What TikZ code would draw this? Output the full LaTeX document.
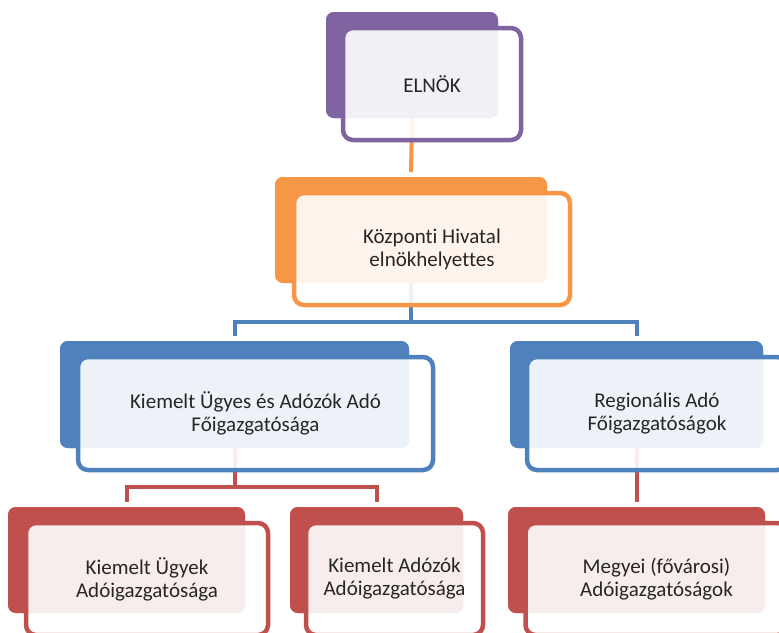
\documentclass[tikz,border=0pt]{standalone}
\usepackage{fontspec}
\setmainfont{Carlito}[Ligatures=NoCommon]
\usetikzlibrary{calc}
\definecolor{cpurple}{HTML}{8064A2}
\definecolor{corange}{HTML}{F79646}
\definecolor{cblue}{HTML}{4F81BD}
\definecolor{cred}{HTML}{C0504D}
\definecolor{ctext}{HTML}{262626}
\tikzset{
  backbox/.style={rectangle, rounded corners=8pt, inner sep=0pt, outer sep=0pt, draw=none},
  frontbox/.style={rectangle, rounded corners=10pt, inner sep=0pt, outer sep=0pt,
    fill=white, fill opacity=0.9, text opacity=1, line width=4.5pt,
    align=center, text=ctext, font=\fontsize{21}{23}\selectfont},
  conn/.style={line width=4pt}
}
\begin{document}
\begin{tikzpicture}[x=1pt,y=-1pt]
\useasboundingbox (0,0) rectangle (779,632);
\clip (0,0) rectangle (779,632);
% back boxes (positions)
\node[backbox, fill=cpurple, minimum width=172pt, minimum height=106pt] (bA) at (412,65) {};
\node[backbox, fill=corange, minimum width=272pt, minimum height=106pt] (bB) at (411,230) {};
\node[backbox, fill=cblue, minimum width=349pt, minimum height=107pt] (bC) at (234.5,394.5) {};
\node[backbox, fill=cblue, minimum width=253pt, minimum height=107pt] (bD) at (636.5,394.5) {};
\node[backbox, fill=cred, minimum width=237pt, minimum height=106pt] (bE) at (126.5,560) {};
\node[backbox, fill=cred, minimum width=173pt, minimum height=106pt] (bF) at (376.5,560) {};
\node[backbox, fill=cred, minimum width=257pt, minimum height=106pt] (bG) at (636.5,560) {};
% connectors
\draw[conn, corange] (bA.south) -- ($(bB.north)+(0,-5)$);
\draw[conn, cblue] (bB.south) -- ++(0,39) -| ($(bC.north)+(0,-5)$);
\draw[conn, cblue] (bB.south) -- ++(0,39) -| ($(bD.north)+(0,-5)$);
\draw[conn, cred] (bC.south) -- ++(0,39) -| ($(bE.north)+(0,-5)$);
\draw[conn, cred] (bC.south) -- ++(0,39) -| ($(bF.north)+(0,-5)$);
\draw[conn, cred] (bD.south) -- ($(bG.north)+(0,-5)$);
% redraw back boxes over connector ends
\fill[cpurple, rounded corners=8pt] (bA.north west) rectangle (bA.south east);
\fill[corange, rounded corners=8pt] (bB.north west) rectangle (bB.south east);
\fill[cblue, rounded corners=8pt] (bC.north west) rectangle (bC.south east);
\fill[cblue, rounded corners=8pt] (bD.north west) rectangle (bD.south east);
\fill[cred, rounded corners=8pt] (bE.north west) rectangle (bE.south east);
\fill[cred, rounded corners=8pt] (bF.north west) rectangle (bF.south east);
\fill[cred, rounded corners=8pt] (bG.north west) rectangle (bG.south east);
% front boxes
\node[frontbox, draw=cpurple, minimum width=178pt, minimum height=112pt] (fA) at (432,84) {ELNÖK};
\node[frontbox, draw=corange, minimum width=276pt, minimum height=112pt] (fB) at (432,249) {Központi Hivatal\\elnökhelyettes};
\node[frontbox, draw=cblue, minimum width=355pt, minimum height=113pt] (fC) at (255.5,413.5) {Kiemelt Ügyes és Adózók Adó\\Főigazgatósága};
\node[frontbox, draw=cblue, minimum width=260pt, minimum height=113pt] (fD) at (657,413.5) {Regionális Adó\\Főigazgatóságok};
\node[frontbox, draw=cred, minimum width=242pt, minimum height=112pt] (fE) at (147,579) {Kiemelt Ügyek\\Adóigazgatósága};
\node[frontbox, draw=cred, minimum width=177pt, minimum height=112pt] (fF) at (394.5,579) {Kiemelt Adózók\\Adóigazgatósága};
\node[frontbox, draw=cred, minimum width=262pt, minimum height=112pt] (fG) at (656.5,579) {Megyei (fővárosi)\\Adóigazgatóságok};
\end{tikzpicture}
\end{document}
